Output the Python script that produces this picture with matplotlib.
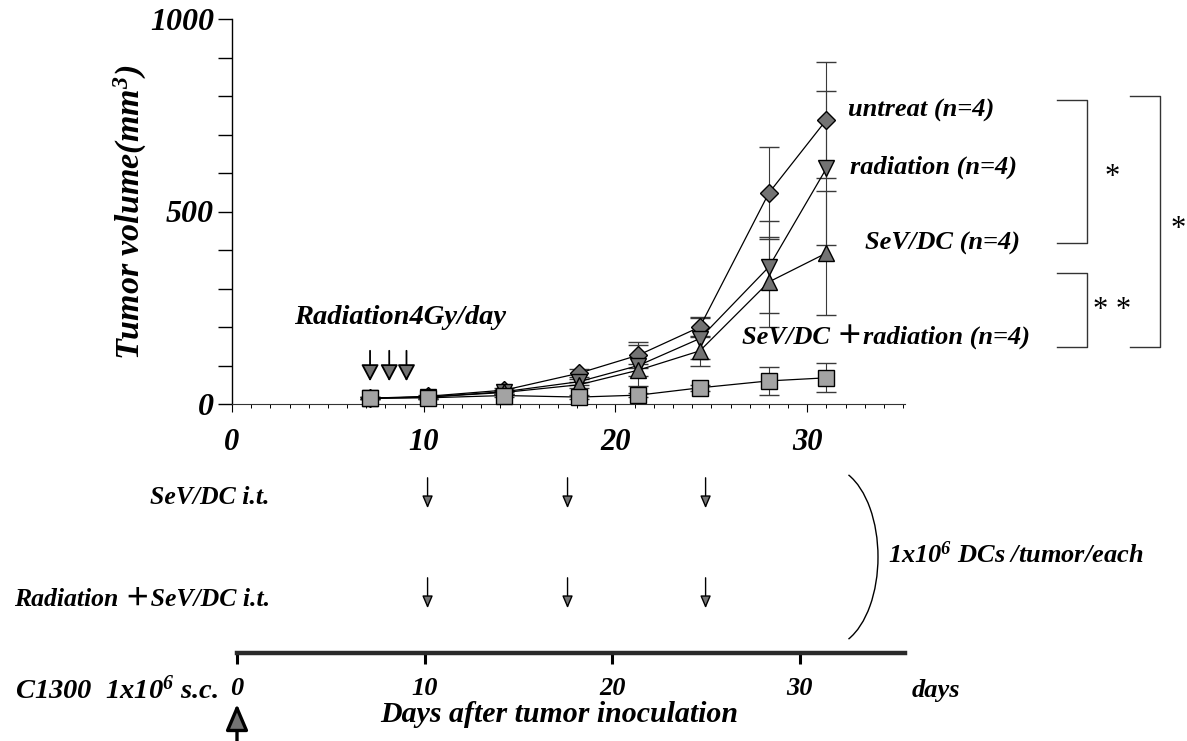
import matplotlib
matplotlib.use('Agg')
import matplotlib.pyplot as plt
from matplotlib.patches import Arc

# ---------------- data ----------------
days = [7.2, 10.2, 14.2, 18.1, 21.2, 24.4, 28.0, 31.0]
untreat = [15, 20, 36, 80, 127, 200, 548, 738]
untreat_err = [3, 4, 6, 10, 34, 26, 120, 150]
radiation = [15, 18, 32, 58, 100, 170, 356, 612]
radiation_err = [3, 4, 5, 8, 53, 53, 120, 200]
sevdc = [15, 18, 30, 50, 88, 138, 317, 392]
sevdc_err = [3, 4, 5, 8, 15, 39, 117, 160]
sevdc_rad = [15, 16, 22, 18, 23, 42, 60, 68]
sevdc_rad_err = [3, 4, 4, 5, 5, 8, 36, 38]

radiation_days = [7.2, 8.2, 9.1]
dc_days = [10.2, 17.5, 24.7]
y_ticks = [0, 500, 1000]
x_ticks = [0, 10, 20, 30]
timeline_ticks = [0, 10, 20, 30]

series_labels = ['untreat (n=4)', 'radiation (n=4)', 'SeV/DC (n=4)',
                 'SeV/DC \uff0bradiation (n=4)']

# ---------------- style ----------------
plt.rcParams['font.family'] = ['Liberation Serif', 'Noto Sans CJK JP']
plt.rcParams['mathtext.fontset'] = 'custom'
plt.rcParams['mathtext.rm'] = 'Liberation Serif:bold:italic'
plt.rcParams['mathtext.it'] = 'Liberation Serif:bold:italic'
plt.rcParams['mathtext.bf'] = 'Liberation Serif:bold:italic'

W, H = 1187, 741
fig = plt.figure(figsize=(W / 100, H / 100), dpi=100)


def fx(px):
    return px / W


def fy(py):
    return 1 - py / H


BI = dict(fontweight='bold', fontstyle='italic')
DARK = '#737373'
LIGHT = '#a3a3a3'

# ---------------- main growth-curve axes ----------------
ax = fig.add_axes([fx(232), fy(404), fx(905) - fx(232), fy(19) - fy(404)])
ax.set_xlim(0, 35.1)
ax.set_ylim(0, 1000)
for s in ['top', 'right']:
    ax.spines[s].set_visible(False)
ax.spines['left'].set_linewidth(1.0)
ax.spines['bottom'].set_linewidth(0.8)
ax.spines['bottom'].set_color('#333333')

ax.set_yticks(y_ticks)
ax.set_yticklabels([str(v) for v in y_ticks], fontsize=23, **BI)
ax.set_yticks(range(0, 1001, 100), minor=True)
ax.tick_params(axis='y', which='both', direction='out', length=10, width=1, pad=3)
ax.set_xticks(x_ticks)
ax.set_xticklabels([str(v) for v in x_ticks], fontsize=22, **BI)
ax.set_xticks(range(0, 36), minor=True)
ax.tick_params(axis='x', which='major', direction='out', length=6, width=0.8, pad=11)
ax.tick_params(axis='x', which='minor', direction='out', length=3, width=0.7)

groups = [
    (untreat, untreat_err, 'D', 9, DARK),
    (radiation, radiation_err, 'v', 12, DARK),
    (sevdc, sevdc_err, '^', 12, DARK),
    (sevdc_rad, sevdc_rad_err, 's', 12, LIGHT),
]
for vals, err, mk, ms, col in groups:
    ax.errorbar(days, vals, yerr=err, fmt='none', ecolor='#3a3a3a',
                elinewidth=0.8, capsize=7, capthick=1.0, clip_on=False, zorder=2)
for vals, err, mk, ms, col in groups:
    ax.plot(days, vals, color='black', lw=0.9, marker=mk, markersize=ms,
            markerfacecolor=col, markeredgecolor='black', markeredgewidth=1.0,
            clip_on=False, zorder=3)

# radiation schedule arrows
for d in radiation_days:
    ax.annotate('', xy=(d, fy(384)), xycoords=('data', 'figure fraction'),
                xytext=(d, fy(348)), textcoords=('data', 'figure fraction'),
                arrowprops=dict(arrowstyle='-|>,head_length=0.85,head_width=0.45',
                                mutation_scale=12, lw=1.3, fc=DARK, ec='black'))

# DC injection arrows (two schedule rows)
for row_top, row_tip in [(475, 511), (575, 611)]:
    for d in dc_days:
        ax.annotate('', xy=(d, fy(row_tip)), xycoords=('data', 'figure fraction'),
                    xytext=(d, fy(row_top)), textcoords=('data', 'figure fraction'),
                    arrowprops=dict(arrowstyle='-|>,head_length=0.75,head_width=0.32',
                                    mutation_scale=10, lw=1.0, fc=DARK, ec='black'))

# ---------------- timeline axes ----------------
ax2 = fig.add_axes([fx(237), fy(653), fx(905) - fx(237), 0.001])
ax2.set_xlim(0, 35.6)
ax2.set_ylim(0, 1)
for s in ['top', 'right', 'left']:
    ax2.spines[s].set_visible(False)
ax2.spines['bottom'].set_linewidth(3.2)
ax2.spines['bottom'].set_color('#2a2a2a')
ax2.set_yticks([])
ax2.set_xticks(timeline_ticks)
ax2.set_xticklabels([str(v) for v in timeline_ticks], fontsize=19, **BI)
ax2.tick_params(axis='x', direction='out', length=8, width=2.2, pad=9)
ax2.patch.set_visible(False)

# ---------------- overlay (pixel coords) for annotations ----------------
ov = fig.add_axes([0, 0, 1, 1])
ov.set_xlim(0, W)
ov.set_ylim(H, 0)
ov.axis('off')
ov.patch.set_visible(False)

ov.text(130, 212, 'Tumor volume(mm$^{3}$)', fontsize=24.5, rotation=90,
        ha='center', va='center', **BI)

ov.text(400, 318, 'Radiation4Gy/day', fontsize=20.5, ha='center', va='center', **BI)

label_pos = [(848, 110, 'left'), (850, 167, 'left'), (1020, 243, 'right'),
             (1030, 337, 'right')]
for (x, y, ha), lab in zip(label_pos, series_labels):
    ov.text(x, y, lab, fontsize=19, ha=ha, va='center', **BI)

# significance brackets
for (x0, x1, y0, y1) in [(1057, 1087, 100, 243), (1057, 1087, 273, 347),
                         (1130, 1160, 96, 347)]:
    ov.plot([x0, x1, x1, x0], [y0, y0, y1, y1], color='#333333', lw=1.0)
ov.text(1112, 178, '*', fontsize=22, ha='center', va='center')
ov.text(1112, 310, '* *', fontsize=22, ha='center', va='center')
ov.text(1178, 230, '*', fontsize=22, ha='center', va='center')

# schedule labels
ov.text(270, 498, 'SeV/DC i.t.', fontsize=18.5, ha='right', va='center', **BI)
ov.text(270, 600, 'Radiation \uff0bSeV/DC i.t.', fontsize=18.5, ha='right',
        va='center', **BI)
ov.add_patch(Arc((828, 557), 100, 180, theta1=-76, theta2=76, color='black', lw=1.0))
ov.text(888, 555, '1x10$^{6}$ DCs /tumor/each', fontsize=19, ha='left',
        va='center', **BI)

ov.text(218, 690, 'C1300  1x10$^{6}$ s.c.', fontsize=20.5, ha='right',
        va='center', **BI)
ov.text(912, 690, 'days', fontsize=19, ha='left', va='center', **BI)
ov.text(559, 714, 'Days after tumor inoculation', fontsize=21.5, ha='center',
        va='center', **BI)

ov.annotate('', xy=(237, 704), xytext=(237, 742),
            arrowprops=dict(arrowstyle='-|>,head_length=0.8,head_width=0.34',
                            mutation_scale=20, lw=2.4, fc=DARK, ec='black',
                            shrinkA=0, shrinkB=0))

fig.savefig('out.png', dpi=100)
